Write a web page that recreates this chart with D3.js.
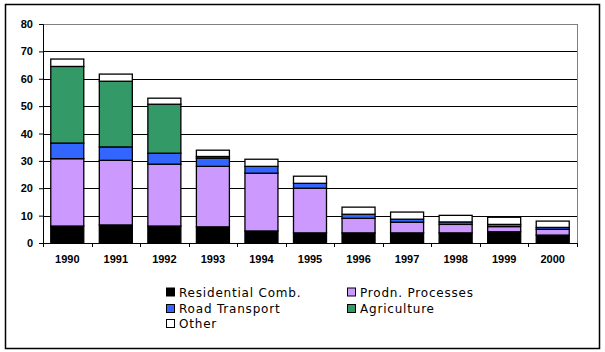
<!DOCTYPE html>
<html>
<head>
<meta charset="utf-8">
<script src="https://cdn.jsdelivr.net/npm/d3@7"></script>
<style>
  body { margin: 0; background: #fff; }
  svg { display: block; }
</style>
</head>
<body>
<svg id="chart"></svg>
<script>
// data
const years = ["1990", "1991", "1992", "1993", "1994", "1995", "1996", "1997", "1998", "1999", "2000"]
const residential = [6.2, 6.6, 6.2, 5.9, 4.4, 3.7, 3.7, 3.7, 3.7, 4.1, 2.9]
const prodn = [24.6, 23.6, 22.6, 22.1, 21.1, 16.3, 5.3, 3.9, 3.1, 1.9, 2.1]
const road = [5.7, 4.9, 4.0, 3.0, 2.5, 1.8, 1.5, 1.1, 0.9, 0.8, 0.7]
const agriculture = [28.0, 24.0, 17.9, 0.6, 0, 0, 0, 0, 0, 0, 0]
const other = [2.7, 2.6, 2.2, 2.3, 2.6, 2.6, 2.6, 2.6, 2.4, 2.6, 2.3]
const yTicks = [0, 10, 20, 30, 40, 50, 60, 70, 80]

const keys = ["Residential Comb.", "Prodn. Processes", "Road Transport", "Agriculture", "Other"]
const colours = ["#000000", "#cc99ff", "#3366ff", "#339966", "#ffffff"]
const seriesVals = [residential, prodn, road, agriculture, other]

let table = years.map((y, i) => {
    let row = { year: y }
    keys.forEach((k, j) => row[k] = seriesVals[j][i])
    return row
})

var W = 605, H = 352
var margin = { top: 24, right: 28, bottom: 109, left: 43 }
var width = 577 - margin.left
var height = 243 - margin.top

var svg = d3.select('#chart')
    .attr('width', W)
    .attr('height', H)

// outer frame
svg.append('rect')
    .attr('x', 5.5).attr('y', 4.5)
    .attr('width', 594).attr('height', 344)
    .attr('fill', '#fff')
    .attr('stroke', '#000')
    .attr('stroke-width', 1.5)

var g = svg.append('g')
    .attr('transform', 'translate(' + margin.left + ',' + margin.top + ')')

var x = d3.scaleBand()
    .domain(years)
    .range([0, width])
    .paddingInner(0.32)
    .paddingOuter(0.16)

var y = d3.scaleLinear()
    .domain([0, 80])
    .range([height, 0])

// grid lines
g.selectAll('.grid')
    .data(yTicks.filter(d => d > 0))
    .enter().append('line')
    .attr('x1', 0).attr('x2', width)
    .attr('y1', d => Math.round(y(d)) + 0.5)
    .attr('y2', d => Math.round(y(d)) + 0.5)
    .attr('stroke', d => d == 80 ? '#808080' : '#000')
    .attr('stroke-width', 1)

// right border of plot area
g.append('line')
    .attr('x1', width + 0.5).attr('x2', width + 0.5)
    .attr('y1', y(80)).attr('y2', y(0))
    .attr('stroke', '#808080')

// stacked bars
var stack = d3.stack().keys(keys)
var layers = stack(table)

g.selectAll('.layer')
    .data(layers)
    .enter().append('g')
    .attr('fill', (d, i) => colours[i])
    .selectAll('rect')
    .data(d => d)
    .enter().append('rect')
    .attr('x', d => x(d.data.year))
    .attr('y', d => y(d[1]))
    .attr('width', x.bandwidth())
    .attr('height', d => y(d[0]) - y(d[1]))
    .attr('stroke', '#000')
    .attr('stroke-width', 1.3)
    .style('display', d => d[1] - d[0] > 0 ? null : 'none')

// y axis
var y_axis = d3.axisLeft(y)
    .tickValues(yTicks)
    .tickSize(4)
    .tickPadding(6)
g.append('g')
    .attr('class', 'axis')
    .call(y_axis)

// x axis, ticks between categories
var x_axis = d3.axisBottom(x).tickSize(0).tickPadding(12)
var xa = g.append('g')
    .attr('class', 'axis')
    .attr('transform', 'translate(0,' + height + ')')
    .call(x_axis)
var step = x.step()
xa.selectAll('.between')
    .data(d3.range(years.length + 1))
    .enter().append('line')
    .attr('x1', d => Math.round(d * step) + 0.5)
    .attr('x2', d => Math.round(d * step) + 0.5)
    .attr('y1', 0).attr('y2', 4)
    .attr('stroke', '#000')

svg.selectAll('.axis path, .axis line').attr('stroke', '#000')
svg.selectAll('.axis text')
    .attr('fill', '#000')
    .style('font-family', '"Liberation Sans", Arial, sans-serif')
    .style('font-weight', 'bold')
    .style('font-size', '11px')

// legend
var legendPos = [[166, 292.5], [347, 292.5], [166, 309], [347, 309], [166, 324]]
var lg = svg.append('g')
keys.forEach((k, i) => {
    var p = legendPos[i]
    lg.append('rect')
        .attr('x', p[0] + 0.5).attr('y', p[1] - 4.5)
        .attr('width', 8).attr('height', 8)
        .attr('fill', colours[i])
        .attr('stroke', '#000')
    lg.append('text')
        .attr('x', p[0] + 13).attr('y', p[1])
        .attr('dy', '0.35em')
        .style('font-family', '"DejaVu Sans", Verdana, sans-serif')
        .style('font-size', '12px')
        .style('letter-spacing', '0.8px')
        .text(k)
})
</script>
</body>
</html>
